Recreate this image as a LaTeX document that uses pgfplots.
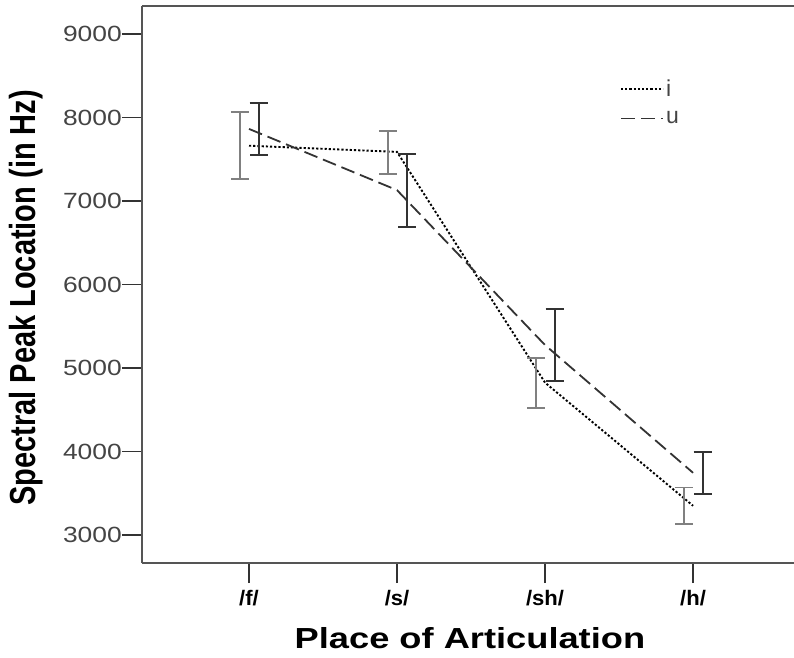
\documentclass[border=0pt]{standalone}
\usepackage{fontspec}
\setmainfont{Liberation Sans}
\newfontfamily\xlabfont[FakeStretch=1.25]{Liberation Sans}
\newfontfamily\ylabfont[FakeStretch=0.8]{Liberation Sans}
\newfontfamily\ytfont[FakeStretch=1.2]{Liberation Sans}
\newfontfamily\xtfont[FakeStretch=1.05]{Liberation Sans}
\usepackage{pgfplots}
\pgfplotsset{compat=1.18}
\newcommand{\fs}[1]{\fontsize{#1pt}{#1pt}\selectfont}
\definecolor{axgray}{HTML}{555555}
\definecolor{tickgray}{HTML}{444444}
\definecolor{ugray}{HTML}{333333}
\begin{document}
\begin{tikzpicture}
\begin{axis}[
  scale only axis, width=652pt, height=557pt,
  xmin=-0.723, xmax=3.682, ymin=2665, ymax=9335,
  axis x line*=bottom, axis y line*=left,
  axis line style={axgray, line width=2pt, -},
  xtick={0,1,2,3},
  xticklabels={/f/,/s/,/sh/,/h/},
  ytick={3000,4000,5000,6000,7000,8000,9000},
  yticklabels={3000,4000,5000,6000,7000,8000,9000},
  tick align=outside, major tick length=20pt,
  tick style={black!80, line width=1.3pt},
  yticklabel style={font=\ytfont\fs{22}, text=tickgray, anchor=east, inner sep=0pt},
  xticklabel style={font=\xtfont\bfseries\fs{21}, text=black, anchor=center, yshift=-15pt},
  xlabel={Place of Articulation},
  ylabel={Spectral Peak Location (in Hz)},
  xlabel style={at={(axis description cs:0.503,-0.135)}, anchor=center, font=\xlabfont\bfseries\fs{29}},
  ylabel style={at={(axis description cs:-0.178,0.476)}, anchor=center, font=\ylabfont\bfseries\fs{36.25}},
  legend style={at={(axis description cs:0.733,0.872)}, anchor=north west, draw=none, fill=none,
    font=\fs{23}, text=tickgray, inner sep=0pt, row sep=10pt, cells={anchor=west}},
  legend image code/.code={\draw[#1] (0pt,0pt) -- (42pt,0pt);},
  clip=false,
]
\addplot[black, line width=1.9pt, dash pattern=on 2.2pt off 2pt] coordinates {
  (0,7662) (1,7588) (2,4825) (3,3350)};
\addlegendentry{i}
\addplot[ugray, line width=1.8pt, dash pattern=on 14pt off 6pt] coordinates {
  (0,7863) (1,7130) (2,5275) (3,3745)};
\addlegendentry{u}
% error bars i (gray)
\addplot[draw=none, mark=none, forget plot,
  error bars/.cd, y dir=both, y explicit,
  error bar style={gray, line width=2.5pt},
  error mark options={rotate=90, gray, line width=1.8pt, mark size=9pt}]
  coordinates {
  (-0.062,7666) +- (0,404)
  (0.938,7580) +- (0,258)
  (1.938,4820) +- (0,303)
  (2.938,3350) +- (0,218)};
% error bars u (black)
\addplot[draw=none, mark=none, forget plot,
  error bars/.cd, y dir=both, y explicit,
  error bar style={ugray, line width=1.8pt},
  error mark options={rotate=90, ugray, line width=1.8pt, mark size=9pt}]
  coordinates {
  (0.065,7864) +- (0,313)
  (1.065,7126) +- (0,434)
  (2.065,5275) +- (0,432)
  (3.065,3743) +- (0,247)};
\draw[axgray, line width=2pt] (rel axis cs:0,1) -- (rel axis cs:1,1);
\end{axis}
\pgfresetboundingbox
\path (-142pt,-94pt) rectangle (652pt,563pt);
\end{tikzpicture}
\end{document}
